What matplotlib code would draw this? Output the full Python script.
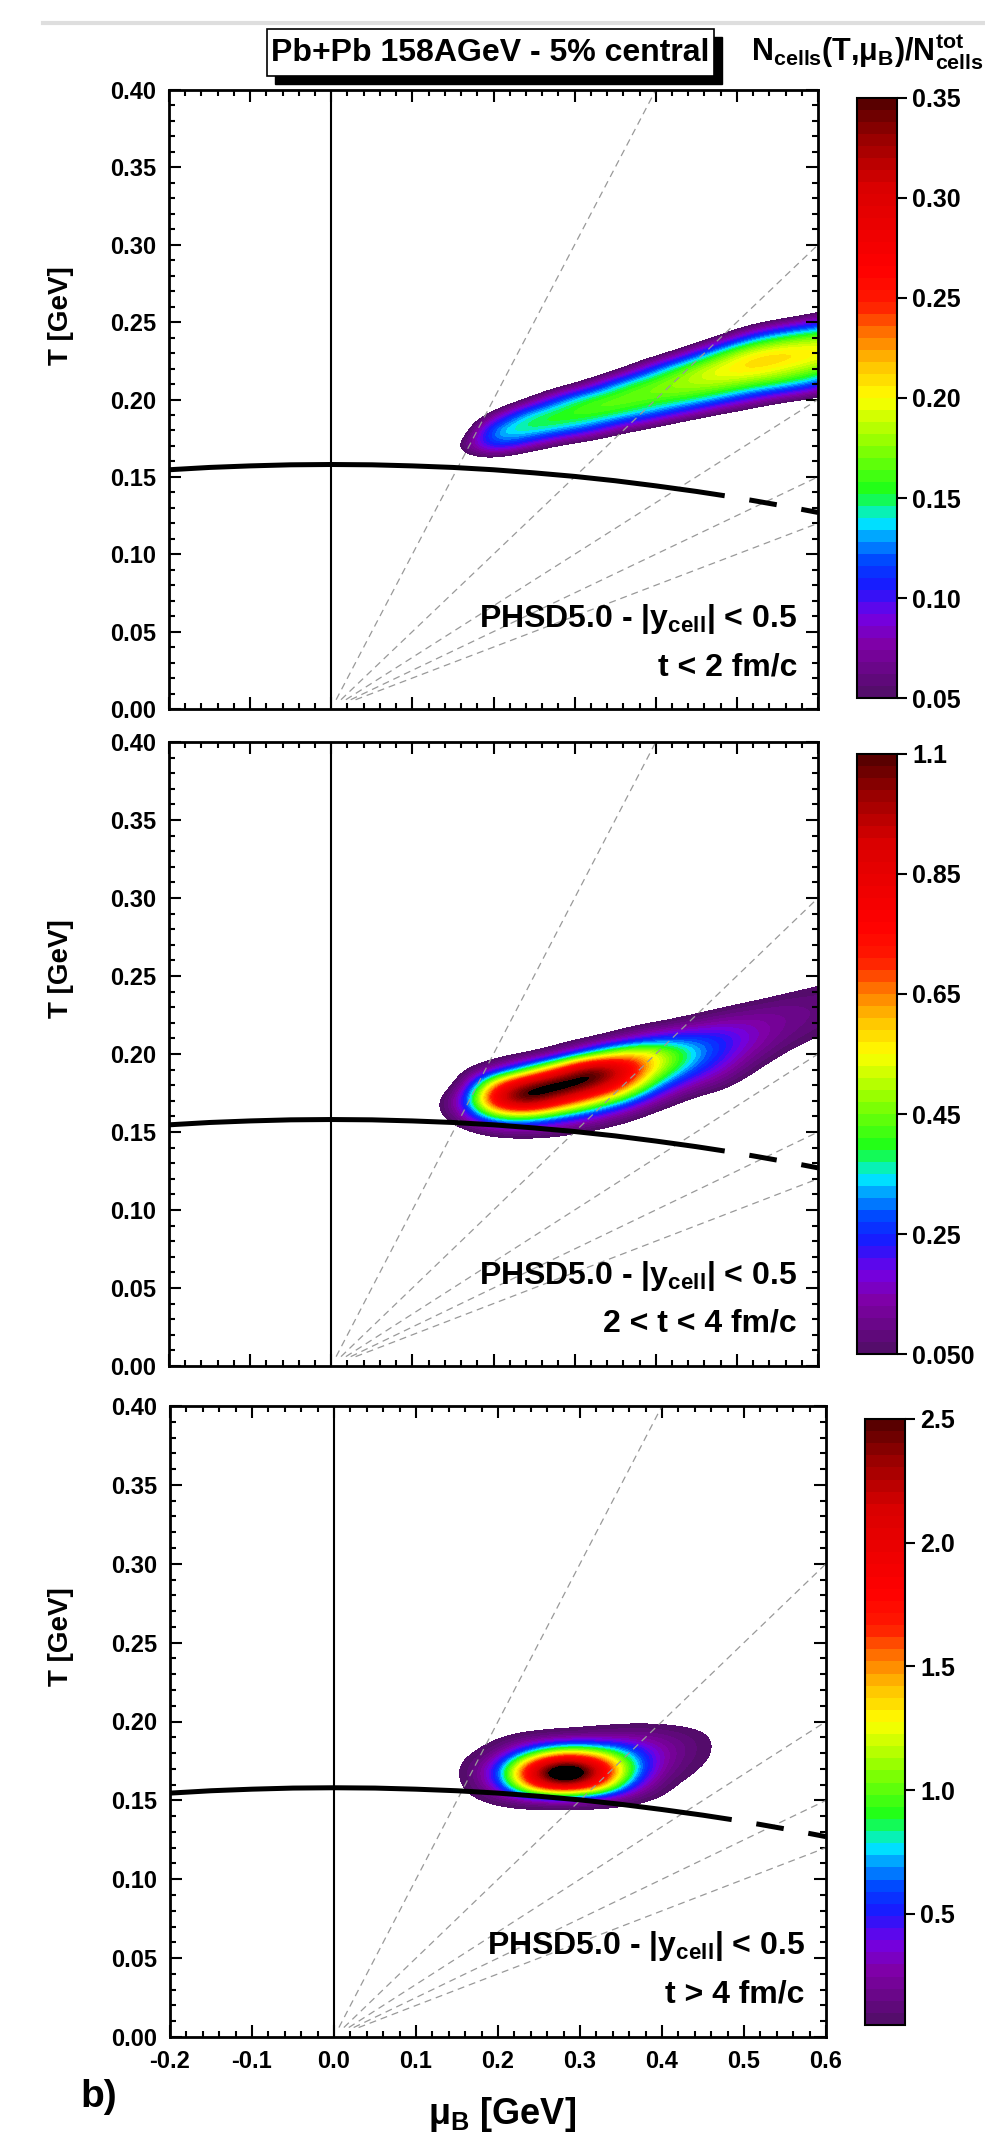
import numpy as np
import matplotlib
matplotlib.use("Agg")
import matplotlib.pyplot as plt
from matplotlib import font_manager
from matplotlib.colors import LinearSegmentedColormap
from matplotlib.patches import Rectangle
from matplotlib.lines import Line2D
from matplotlib.ticker import MultipleLocator, FormatStrFormatter

names = {f.name for f in font_manager.fontManager.ttflist}
narrow = "Liberation Sans Narrow" if "Liberation Sans Narrow" in names else "Liberation Sans"

plt.rcParams['font.family'] = ['Liberation Sans', 'DejaVu Sans']
plt.rcParams['mathtext.fontset'] = 'custom'
plt.rcParams['mathtext.rm'] = 'Liberation Sans'
plt.rcParams['mathtext.bf'] = 'Liberation Sans:bold'
plt.rcParams['mathtext.it'] = 'Liberation Sans:italic'
plt.rcParams['mathtext.default'] = 'rm'
plt.rcParams['lines.scale_dashes'] = False

# --- data -------------------------------------------------------------
# grid of the cell histograms (mu_B columns, T rows), values in units of 0.01
mu_grid = [0.12, 0.16, 0.20, 0.24, 0.28, 0.32, 0.36, 0.40, 0.44, 0.48, 0.52, 0.56, 0.60, 0.64]
T_grid = [0.14, 0.15, 0.16, 0.17, 0.18, 0.19, 0.20, 0.21, 0.22, 0.23, 0.24, 0.25, 0.26, 0.27, 0.28]

# each inner list = one mu_B column, going up in T
cells_early = [
    [0, 0, 0, 0, 0, 0, 0, 0, 0, 0, 0, 0, 0, 0, 0],
    [0, 0, 3, 6, 1, 0, 0, 0, 0, 0, 0, 0, 0, 0, 0],
    [0, 0, 3, 13, 15, 6, 0, 0, 0, 0, 0, 0, 0, 0, 0],
    [0, 0, 0, 9, 16, 15, 4, 0, 0, 0, 0, 0, 0, 0, 0],
    [0, 0, 0, 4, 14, 17, 12, 2, 0, 0, 0, 0, 0, 0, 0],
    [0, 0, 0, 2, 11, 17, 17, 7, 0, 0, 0, 0, 0, 0, 0],
    [0, 0, 0, 0, 6, 15, 18, 15, 4, 0, 0, 0, 0, 0, 0],
    [0, 0, 0, 0, 3, 12, 17, 18, 12, 2, 0, 0, 0, 0, 0],
    [0, 0, 0, 0, 0, 8, 16, 19, 18, 8, 0, 0, 0, 0, 0],
    [0, 0, 0, 0, 0, 4, 13, 19, 21, 16, 5, 0, 0, 0, 0],
    [0, 0, 0, 0, 0, 2, 9, 17, 22, 21, 12, 3, 0, 0, 0],
    [0, 0, 0, 0, 0, 0, 6, 15, 20, 22, 16, 6, 0, 0, 0],
    [0, 0, 0, 0, 0, 0, 4, 12, 18, 21, 18, 9, 2, 0, 0],
    [0, 0, 0, 0, 0, 0, 0, 7, 15, 20, 19, 12, 5, 0, 0],
]
cells_mid = [
    [0, 0, 0, 0, 0, 0, 0, 0, 0, 0, 0, 0, 0, 0, 0],
    [0, 0, 10, 14, 0, 0, 0, 0, 0, 0, 0, 0, 0, 0, 0],
    [0, 6, 45, 95, 72, 10, 0, 0, 0, 0, 0, 0, 0, 0, 0],
    [0, 8, 48, 126, 112, 36, 0, 0, 0, 0, 0, 0, 0, 0, 0],
    [0, 6, 32, 92, 131, 76, 8, 0, 0, 0, 0, 0, 0, 0, 0],
    [0, 2, 20, 62, 115, 125, 34, 0, 0, 0, 0, 0, 0, 0, 0],
    [0, 0, 8, 36, 80, 100, 64, 10, 0, 0, 0, 0, 0, 0, 0],
    [0, 0, 0, 12, 35, 58, 62, 25, 2, 0, 0, 0, 0, 0, 0],
    [0, 0, 0, 2, 15, 32, 40, 30, 8, 0, 0, 0, 0, 0, 0],
    [0, 0, 0, 0, 7, 18, 26, 27, 15, 3, 0, 0, 0, 0, 0],
    [0, 0, 0, 0, 0, 5, 12, 18, 16, 8, 0, 0, 0, 0, 0],
    [0, 0, 0, 0, 0, 0, 4, 9, 12, 11, 4, 0, 0, 0, 0],
    [0, 0, 0, 0, 0, 0, 0, 5, 8, 9, 7, 2, 0, 0, 0],
    [0, 0, 0, 0, 0, 0, 0, 0, 6, 8, 8, 4, 0, 0, 0],
]
cells_late = [
    [0, 0, 0, 0, 0, 0, 0, 0, 0, 0, 0, 0, 0, 0, 0],
    [0, 0, 1, 2, 0, 0, 0, 0, 0, 0, 0, 0, 0, 0, 0],
    [0, 4, 40, 50, 12, 0, 0, 0, 0, 0, 0, 0, 0, 0, 0],
    [0, 8, 190, 220, 80, 4, 0, 0, 0, 0, 0, 0, 0, 0, 0],
    [0, 8, 270, 340, 140, 8, 0, 0, 0, 0, 0, 0, 0, 0, 0],
    [0, 6, 200, 250, 125, 14, 0, 0, 0, 0, 0, 0, 0, 0, 0],
    [0, 3, 60, 100, 75, 22, 0, 0, 0, 0, 0, 0, 0, 0, 0],
    [0, 0, 6, 22, 30, 20, 0, 0, 0, 0, 0, 0, 0, 0, 0],
    [0, 0, 0, 4, 10, 10, 0, 0, 0, 0, 0, 0, 0, 0, 0],
    [0, 0, 0, 0, 0, 0, 0, 0, 0, 0, 0, 0, 0, 0, 0],
    [0, 0, 0, 0, 0, 0, 0, 0, 0, 0, 0, 0, 0, 0, 0],
    [0, 0, 0, 0, 0, 0, 0, 0, 0, 0, 0, 0, 0, 0, 0],
    [0, 0, 0, 0, 0, 0, 0, 0, 0, 0, 0, 0, 0, 0, 0],
    [0, 0, 0, 0, 0, 0, 0, 0, 0, 0, 0, 0, 0, 0, 0],
]

# colour scale ranges and labels
cb_ranges = [(0.05, 0.35), (0.05, 1.1), (0.05, 2.5)]
cb_early_labels = ["0.05", "0.10", "0.15", "0.20", "0.25", "0.30", "0.35"]
cb_mid_labels = ["0.050", "0.25", "0.45", "0.65", "0.85", "1.1"]
cb_late_ticks = [0.5, 1.0, 1.5, 2.0, 2.5]

time_labels = ["t < 2 fm/c", "2 < t < 4 fm/c", "t > 4 fm/c"]

# crossover line (solid) and its continuation (dashed)
mu_cross = [-0.2, -0.15, -0.1, -0.05, 0.0, 0.05, 0.1, 0.15, 0.2, 0.25, 0.3, 0.35, 0.4, 0.45, 0.485]
T_cross = [0.1546, 0.1561, 0.1571, 0.1578, 0.158, 0.1578, 0.1571, 0.1561, 0.1546, 0.1526,
           0.1503, 0.1475, 0.1442, 0.1406, 0.1378]
mu_cross_ext = [0.485, 0.52, 0.56, 0.6]
T_cross_ext = [0.1378, 0.1347, 0.1310, 0.1270]

# lines of constant mu_B/T
mu_over_T = [1, 2, 3, 4, 5]

# --- colours ----------------------------------------------------------
root_cmap = LinearSegmentedColormap.from_list("rootrainbow", [
    (0.00, (0.33, 0.05, 0.42)),
    (0.08, (0.50, 0.00, 0.65)),
    (0.13, (0.45, 0.00, 0.90)),
    (0.18, (0.10, 0.10, 1.00)),
    (0.22, (0.00, 0.25, 1.00)),
    (0.26, (0.00, 0.60, 1.00)),
    (0.29, (0.00, 0.92, 1.00)),
    (0.34, (0.10, 1.00, 0.10)),
    (0.42, (0.55, 1.00, 0.00)),
    (0.50, (1.00, 1.00, 0.00)),
    (0.56, (1.00, 0.75, 0.00)),
    (0.61, (1.00, 0.45, 0.00)),
    (0.66, (1.00, 0.10, 0.00)),
    (0.72, (1.00, 0.00, 0.00)),
    (0.86, (0.85, 0.00, 0.00)),
    (0.94, (0.60, 0.00, 0.00)),
    (1.00, (0.35, 0.00, 0.00)),
]).resampled(50)
root_cmap.set_under('none')
root_cmap.set_over('black')

# --- figure -----------------------------------------------------------
W, H = 985, 2134
fig = plt.figure(figsize=(W / 100, H / 100), dpi=100)


def px_box(left, top, right, bottom):
    return [left / W, 1 - bottom / H, (right - left) / W, (bottom - top) / H]


axes_px = [(169, 90, 818, 709), (169, 742, 818, 1366), (170, 1406, 826, 2037)]
cbar_px = [(857, 98, 897, 698), (857, 754, 897, 1354), (865, 1419, 905, 2025)]
ylabel_y = [316, 969, 1637]
panels = [cells_early, cells_mid, cells_late]

dmu = mu_grid[1] - mu_grid[0]
dT = T_grid[1] - T_grid[0]
extent = [mu_grid[0] - dmu / 2, mu_grid[-1] + dmu / 2, T_grid[0] - dT / 2, T_grid[-1] + dT / 2]

for i in range(3):
    ax = fig.add_axes(px_box(*axes_px[i]))
    z = np.array(panels[i], dtype=float).T * 0.01
    vmin, vmax = cb_ranges[i]
    im = ax.imshow(z, origin='lower', extent=extent, aspect='auto', interpolation='bicubic',
                   cmap=root_cmap, vmin=vmin, vmax=vmax, zorder=1)

    for r in mu_over_T:
        ax.plot([0.006 * r, 0.4 * r], [0.006, 0.4], color='#999999', lw=0.9,
                dashes=(5, 3.5), zorder=2)
    ax.axvline(0.0, color='black', lw=1.5, zorder=3)
    ax.plot(mu_cross, T_cross, color='black', lw=3.6, solid_capstyle='butt', zorder=4)
    ax.plot(mu_cross_ext, T_cross_ext, color='black', lw=3.6, linestyle=(20, (20, 18)),
            dash_capstyle='butt', zorder=4)

    ax.set_xlim(-0.2, 0.6)
    ax.set_ylim(0.0, 0.4)
    ax.xaxis.set_major_locator(MultipleLocator(0.1))
    ax.xaxis.set_minor_locator(MultipleLocator(0.02))
    ax.yaxis.set_major_locator(MultipleLocator(0.05))
    ax.yaxis.set_minor_locator(MultipleLocator(0.01))
    ax.xaxis.set_major_formatter(FormatStrFormatter('%.1f'))
    ax.yaxis.set_major_formatter(FormatStrFormatter('%.2f'))
    ax.tick_params(which='both', direction='in', top=True, right=True, width=1.5)
    ax.tick_params(which='major', length=8.5, labelsize=17, pad=9)
    ax.tick_params(which='minor', length=4.5)
    for lab in ax.get_xticklabels() + ax.get_yticklabels():
        lab.set_fontweight('bold')
    if i < 2:
        ax.tick_params(labelbottom=False)
    for s in ax.spines.values():
        s.set_linewidth(2)

    ax.text(0.574, 0.058, r'PHSD5.0 - |y$_{\mathbf{cell}}$| < 0.5', ha='right', va='center',
            fontsize=23, fontweight='bold', zorder=5)
    ax.text(0.574, 0.027, time_labels[i], ha='right', va='center', fontsize=23,
            fontweight='bold', zorder=5)

    fig.text(61 / W, 1 - ylabel_y[i] / H, 'T [GeV]', rotation=90, ha='center', va='center',
             fontsize=20, fontweight='bold')

    cax = fig.add_axes(px_box(*cbar_px[i]))
    cb = fig.colorbar(im, cax=cax)
    cb.minorticks_off()
    if i == 0:
        cb.set_ticks(np.linspace(vmin, vmax, len(cb_early_labels)), labels=cb_early_labels)
    elif i == 1:
        cb.set_ticks(np.linspace(vmin, vmax, len(cb_mid_labels)), labels=cb_mid_labels)
    else:
        cb.set_ticks(cb_late_ticks, labels=["%.1f" % v for v in cb_late_ticks])
    cb.outline.set_linewidth(1.5)
    cax.tick_params(direction='out', length=7, width=1.5, labelsize=18, pad=4)
    for lab in cax.get_yticklabels():
        lab.set_fontweight('bold')

fig.text(502 / W, 1 - 2114 / H, r'μ$_{\mathbf{B}}$ [GeV]', ha='center', va='center',
         fontsize=26, fontweight='bold')
fig.text(99 / W, 1 - 2097 / H, 'b)', ha='center', va='center', fontsize=28, fontweight='bold')

# title box with ROOT style shadow
fig.add_artist(Rectangle((275 / W, 1 - 84 / H), 447 / W, 47 / H, transform=fig.transFigure,
                         facecolor='black', edgecolor='black'))
fig.add_artist(Rectangle((267 / W, 1 - 76 / H), 447 / W, 47 / H, transform=fig.transFigure,
                         facecolor='white', edgecolor='black', lw=1.2))
narrow_ok = narrow != "Liberation Sans"
fig.text(490 / W, 1 - 53 / H, 'Pb+Pb 158AGeV - 5% central', ha='center', va='center',
         fontsize=28 if narrow_ok else 23, fontweight='bold', family=narrow)
fig.text(751 / W, 1 - 52 / H, r'N$_{\mathbf{cells}}$(T,μ$_{\mathbf{B}}$)/N$^{\mathbf{tot}}_{\mathbf{cells}}$',
         ha='left', va='center', fontsize=28 if narrow_ok else 22, fontweight='bold', family=narrow)

fig.add_artist(Line2D([43 / W, 1.0], [1 - 23 / H, 1 - 23 / H], transform=fig.transFigure,
                      color='#dedede', lw=3))

fig.savefig("out.png", dpi=100)
